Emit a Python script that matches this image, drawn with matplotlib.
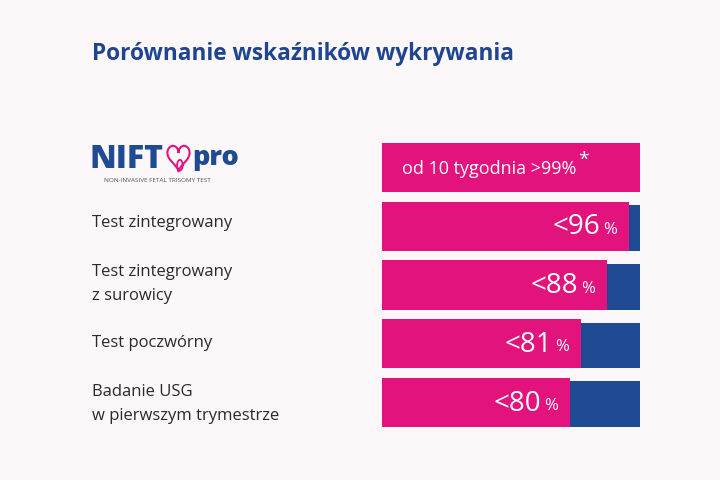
import numpy as np
import matplotlib
matplotlib.use("Agg")
import matplotlib.pyplot as plt

PINK = "#E2137D"
BLUE = "#1F4A94"
TITLE_C = "#1F4590"
BG = "#FCF8FA"
TXT = "#2A2A2A"

W, H = 720, 480

# ---- data ----
categories = ["NIFTY pro", "Test zintegrowany", "Test zintegrowany\nz surowicy",
              "Test poczwórny", "Badanie USG\nw pierwszym trymestrze"]
rate_labels = [">99", "<96", "<88", "<81", "<80"]
bar_len = [100, 95.7, 87.2, 77.1, 72.9]   # pink length as drawn, % of full bar

plt.rcParams["font.family"] = ["Open Sans", "DejaVu Sans"]

fig = plt.figure(figsize=(W / 100, H / 100), dpi=100, facecolor=BG)


def fx(x):
    return x / W


def fy(y):
    return 1 - y / H


# title
fig.text(fx(92), fy(54), "Porównanie wskaźników wykrywania", fontsize=16.3,
         fontweight="bold", color=TITLE_C, ha="left", va="center")

# bars axis
top, bot = 143, 427
ax = fig.add_axes([fx(382), fy(bot), fx(640) - fx(382), (bot - top) / H])
ax.set_facecolor("none")
n = len(categories)
h = 0.84
ypos = np.arange(n)
ax.barh(ypos[1:] + 0.03, [100] * (n - 1), height=h - 0.06, color=BLUE, zorder=1)
ax.barh(ypos, bar_len, height=h, color=PINK, zorder=2)
ax.set_xlim(0, 100)
ax.set_ylim(n - 1 + h / 2, -h / 2)
ax.axis("off")

# first row text
ax.text(7.8, 0.02, "od 10 tygodnia >99%", fontsize=13, color="white",
        ha="left", va="center", zorder=3)
ax.text(75.9, -0.13, "*", fontsize=14, color="white", ha="left",
        va="center", zorder=3)

# value labels in pink bars
for i in range(1, n):
    ax.text(bar_len[i] - 4.6, i + 0.06, "%", fontsize=12, color="white",
            ha="right", va="center", zorder=3)
    ax.text(bar_len[i] - 11.2, i + 0.02, rate_labels[i], fontsize=20,
            color="white", ha="right", va="center", zorder=3)

# category labels
label_y = [None, 223, 284, 343, 404]
for i in range(1, n):
    fig.text(fx(92), fy(label_y[i]), categories[i], fontsize=12, color=TXT,
             ha="left", va="center", linespacing=1.65)

# logo
fig.text(fx(89), fy(160), "NIFT", fontsize=23, fontweight="heavy",
         color=BLUE, ha="left", va="center")
tt = np.linspace(0, 2 * np.pi, 200)
hx = 16 * np.sin(tt) ** 3
hy = 13 * np.cos(tt) - 5 * np.cos(2 * tt) - 2 * np.cos(3 * tt) - np.cos(4 * tt)
lax = fig.add_axes([fx(166), fy(174), fx(25), 30 / H])
lax.plot(hx, hy, color=PINK, lw=1.5)
lp = np.linspace(0, 2 * np.pi, 100)
lax.plot(2 + 4 * np.cos(lp), -10 + 6 * np.sin(lp), color=PINK, lw=1.3)
lax.set_xlim(-18, 18)
lax.set_ylim(-20, 14)
lax.axis("off")
fig.text(fx(192), fy(158), "pro", fontsize=19.5, fontweight="heavy",
         color=BLUE, ha="left", va="center")
fig.text(fx(104), fy(181), "NON-INVASIVE FETAL TRISOMY TEST", fontsize=4.6,
         color="#555555", ha="left", va="center")

fig.savefig("out.png", dpi=100, facecolor=BG)
